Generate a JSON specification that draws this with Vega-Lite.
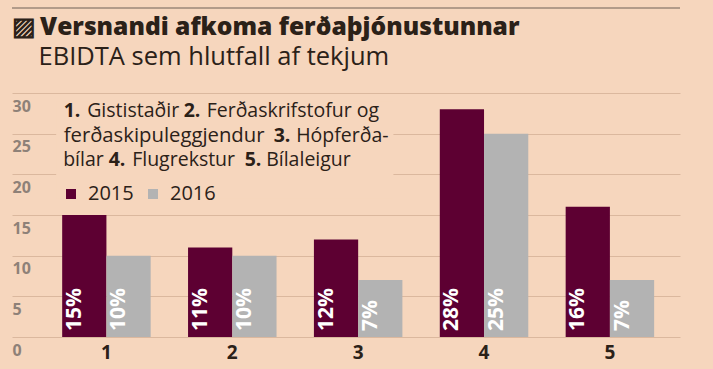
{
  "$schema": "https://vega.github.io/schema/vega-lite/v6.json",
  "width": 668,
  "height": 244,
  "autosize": {"type": "none"},
  "padding": {"left": 12, "top": 93, "right": 33, "bottom": 32},
  "background": "#f6d6bd",
  "config": {
    "font": "Open Sans",
    "view": {"stroke": null},
    "legend": {
      "orient": "none", "legendX": 49, "legendY": 91, "direction": "horizontal",
      "symbolType": "square", "symbolSize": 100, "symbolStrokeWidth": 0,
      "labelFont": "Open Sans", "labelFontSize": 20, "labelColor": "#2b2118",
      "labelOffset": 7, "columnPadding": 9, "padding": 0, "title": null
    }
  },
  "title": {
    "text": "▨\u2009Versnandi afkoma ferðaþjónustunnar",
    "subtitle": "\u200b\u00a0\u00a0\u00a0\u00a0EBIDTA sem hlutfall af tekjum",
    "anchor": "start", "frame": "group",
    "font": "Open Sans", "fontSize": 24.6, "fontWeight": 800, "color": "#2b2118",
    "subtitleFont": "Open Sans", "subtitleFontSize": 25.5, "subtitleColor": "#2b2118",
    "subtitlePadding": 4, "offset": 0, "dy": 64
  },
  "datasets": {
    "bars": [
      {"cat": "1", "year": "2015", "value": 15, "label": "15%"},
      {"cat": "1", "year": "2016", "value": 10, "label": "10%"},
      {"cat": "2", "year": "2015", "value": 11, "label": "11%"},
      {"cat": "2", "year": "2016", "value": 10, "label": "10%"},
      {"cat": "3", "year": "2015", "value": 12, "label": "12%"},
      {"cat": "3", "year": "2016", "value": 7, "label": "7%"},
      {"cat": "4", "year": "2015", "value": 28, "label": "28%"},
      {"cat": "4", "year": "2016", "value": 25, "label": "25%"},
      {"cat": "5", "year": "2015", "value": 16, "label": "16%"},
      {"cat": "5", "year": "2016", "value": 7, "label": "7%"}
    ]
  },
  "encoding": {
    "y": {
      "type": "quantitative",
      "scale": {"domain": [0, 30], "nice": false},
      "axis": {"title": null, "values": [0, 5, 10, 15, 20, 25, 30], "grid": true, "gridColor": "#dbb89e",
               "domain": false, "ticks": false, "labelAlign": "left", "labelBaseline": "middle",
               "labelOffset": 13, "labelPadding": 0, "labelFontSize": 16, "labelFontWeight": "bold",
               "labelColor": "#8e8178"}
    }
  },
  "layer": [
    {
      "data": {"name": "bars"},
      "mark": {"type": "bar"},
      "encoding": {
        "x": {
          "field": "cat", "type": "nominal", "sort": ["1", "2", "3", "4", "5"],
          "scale": {"paddingInner": 0.297, "paddingOuter": 0.302, "align": 0.66},
          "axis": {"title": null, "labelAngle": 0, "domain": false, "ticks": false, "grid": false,
                   "labelPadding": 6, "labelFontSize": 19, "labelFontWeight": "bold", "labelColor": "#2b2118"}
        },
        "y": {"field": "value"},
        "xOffset": {"field": "year", "type": "nominal", "scale": {"paddingInner": 0, "paddingOuter": 0}},
        "color": {"field": "year", "type": "nominal",
                  "scale": {"domain": ["2015", "2016"], "range": ["#5d0032", "#b3b3b3"]}}
      }
    },
    {
      "data": {"values": [{"m": 1}]},
      "mark": {"type": "rect", "color": "#f6d6bd", "xOffset": -6, "x2Offset": -9},
      "encoding": {
        "x": {"datum": "1", "bandPosition": 0},
        "x2": {"datum": "3", "bandPosition": 1},
        "y": {"datum": 17},
        "y2": {"datum": 29}
      }
    },
    {
      "data": {"values": [{"m": 1}]},
      "mark": {"type": "rule", "color": "#6f6056", "strokeWidth": 1, "x2Offset": 33},
      "encoding": {"y": {"datum": 40.45}}
    },
    {
      "data": {"name": "bars"},
      "mark": {"type": "text", "angle": 270, "align": "left", "baseline": "alphabetic",
               "dx": 6, "dy": -3.5, "fontSize": 21, "fontWeight": "bold", "color": "#ffffff"},
      "encoding": {
        "x": {"field": "cat", "type": "nominal"},
        "y": {"datum": 0},
        "xOffset": {"field": "year", "type": "nominal", "scale": {"paddingInner": 0, "paddingOuter": 0}},
        "text": {"field": "label"}
      }
    },
    {
      "data": {"values": [{"t": "1."}]},
      "mark": {"type": "text", "align": "left", "baseline": "alphabetic", "fontSize": 19.5, "fontWeight": "bold", "color": "#2b2118", "dx": 1.5},
      "encoding": {"x": {"datum": "1", "bandPosition": 0}, "y": {"datum": 27.01}, "text": {"field": "t"}}
    },
    {
      "data": {"values": [{"t": "Gististaðir"}]},
      "mark": {"type": "text", "align": "left", "baseline": "alphabetic", "fontSize": 19.5, "color": "#2b2118", "dx": 25},
      "encoding": {"x": {"datum": "1", "bandPosition": 0}, "y": {"datum": 27.01}, "text": {"field": "t"}}
    },
    {
      "data": {"values": [{"t": "2."}]},
      "mark": {"type": "text", "align": "left", "baseline": "alphabetic", "fontSize": 19.5, "fontWeight": "bold", "color": "#2b2118", "dx": 121.5},
      "encoding": {"x": {"datum": "1", "bandPosition": 0}, "y": {"datum": 27.01}, "text": {"field": "t"}}
    },
    {
      "data": {"values": [{"t": "Ferðaskrifstofur og"}]},
      "mark": {"type": "text", "align": "left", "baseline": "alphabetic", "fontSize": 19.5, "color": "#2b2118", "dx": 144.5},
      "encoding": {"x": {"datum": "1", "bandPosition": 0}, "y": {"datum": 27.01}, "text": {"field": "t"}}
    },
    {
      "data": {"values": [{"t": "ferðaskipuleggjendur"}]},
      "mark": {"type": "text", "align": "left", "baseline": "alphabetic", "fontSize": 20.3, "color": "#2b2118", "dx": 1.5},
      "encoding": {"x": {"datum": "1", "bandPosition": 0}, "y": {"datum": 23.94}, "text": {"field": "t"}}
    },
    {
      "data": {"values": [{"t": "3."}]},
      "mark": {"type": "text", "align": "left", "baseline": "alphabetic", "fontSize": 19.5, "fontWeight": "bold", "color": "#2b2118", "dx": 211.5},
      "encoding": {"x": {"datum": "1", "bandPosition": 0}, "y": {"datum": 23.94}, "text": {"field": "t"}}
    },
    {
      "data": {"values": [{"t": "Hópferða-"}]},
      "mark": {"type": "text", "align": "left", "baseline": "alphabetic", "fontSize": 19.5, "color": "#2b2118", "dx": 234},
      "encoding": {"x": {"datum": "1", "bandPosition": 0}, "y": {"datum": 23.94}, "text": {"field": "t"}}
    },
    {
      "data": {"values": [{"t": "bílar"}]},
      "mark": {"type": "text", "align": "left", "baseline": "alphabetic", "fontSize": 19.5, "color": "#2b2118", "dx": 1},
      "encoding": {"x": {"datum": "1", "bandPosition": 0}, "y": {"datum": 20.99}, "text": {"field": "t"}}
    },
    {
      "data": {"values": [{"t": "4."}]},
      "mark": {"type": "text", "align": "left", "baseline": "alphabetic", "fontSize": 19.5, "fontWeight": "bold", "color": "#2b2118", "dx": 46.5},
      "encoding": {"x": {"datum": "1", "bandPosition": 0}, "y": {"datum": 20.99}, "text": {"field": "t"}}
    },
    {
      "data": {"values": [{"t": "Flugrekstur"}]},
      "mark": {"type": "text", "align": "left", "baseline": "alphabetic", "fontSize": 19.5, "color": "#2b2118", "dx": 70},
      "encoding": {"x": {"datum": "1", "bandPosition": 0}, "y": {"datum": 20.99}, "text": {"field": "t"}}
    },
    {
      "data": {"values": [{"t": "5."}]},
      "mark": {"type": "text", "align": "left", "baseline": "alphabetic", "fontSize": 19.5, "fontWeight": "bold", "color": "#2b2118", "dx": 182.5},
      "encoding": {"x": {"datum": "1", "bandPosition": 0}, "y": {"datum": 20.99}, "text": {"field": "t"}}
    },
    {
      "data": {"values": [{"t": "Bílaleigur"}]},
      "mark": {"type": "text", "align": "left", "baseline": "alphabetic", "fontSize": 19.5, "color": "#2b2118", "dx": 204},
      "encoding": {"x": {"datum": "1", "bandPosition": 0}, "y": {"datum": 20.99}, "text": {"field": "t"}}
    }
  ]
}
